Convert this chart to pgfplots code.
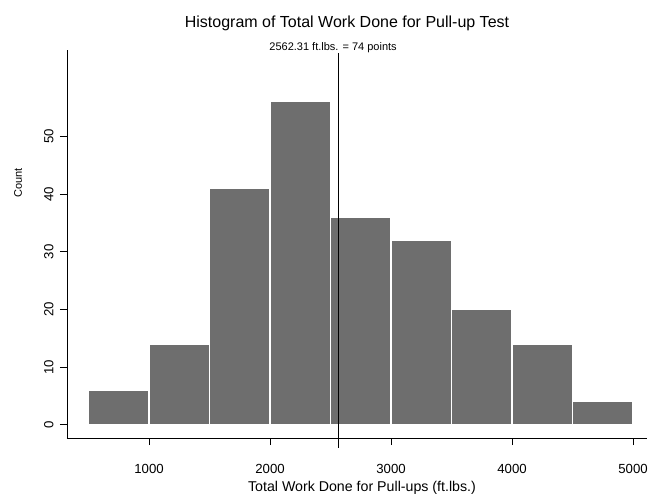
\documentclass[border=0pt]{standalone}
\usepackage{fontspec}
\setmainfont{Liberation Sans}
\usepackage{pgfplots}
\pgfplotsset{compat=1.18}
\begin{document}
\begin{tikzpicture}
\begin{axis}[
  scale only axis, width=580pt, height=388pt,
  xmin=322, xmax=5115, ymin=-2.3, ymax=65,
  axis lines*=left,
  axis line style={line width=0.8pt},
  tick align=outside, major tick length=7pt,
  tick style={black, line width=0.8pt},
  xtick={1000,2000,3000,4000,5000},
  ytick={0,10,20,30,40,50},
  /pgf/number format/assume math mode=true,
  /pgf/number format/set thousands separator={},
  ticklabel style={font=\fontsize{13.2}{15}\selectfont},
  yticklabel style={rotate=90, anchor=south, yshift=3pt},
  xticklabel style={yshift=-16pt},
  xlabel={Total Work Done for Pull-ups (ft.lbs.)},
  xlabel style={font=\fontsize{14.2}{16}\selectfont, at={(axis description cs:0.5,0)}, anchor=center, yshift=-50pt, xshift=5pt},
  ylabel={Count},
  ylabel style={font=\fontsize{11}{13}\selectfont, at={(axis description cs:0,0.5)}, anchor=center, xshift=61pt, yshift=49pt},
  title={Histogram of Total Work Done for Pull-up Test},
  title style={font=\fontsize{16}{18}\selectfont, at={(axis description cs:0.5,1)}, anchor=center, yshift=21pt, xshift=-10pt},
  clip=false,
]
\coordinate (bl) at (rel axis cs:0,0);
\coordinate (tr) at (rel axis cs:1,1);
\addplot[ybar interval, fill=black!57, draw=white, line width=1.2pt]
  coordinates {(500,6) (1000,14) (1500,41) (2000,56) (2500,36) (3000,32) (3500,20) (4000,14) (4500,4) (5000,4)};
\addplot[black, line width=1pt] coordinates {(2562.31,-4) (2562.31,64.5)}
  node[pos=1, anchor=center, yshift=5pt, xshift=-5pt, font=\fontsize{11}{13}\selectfont, inner sep=0pt] {2562.31 ft.lbs. = 74 points};
\end{axis}
\pgfresetboundingbox
\path ([shift={(-67pt,-58pt)}]bl) rectangle ([shift={(2pt,50pt)}]tr);
\end{tikzpicture}
\end{document}
